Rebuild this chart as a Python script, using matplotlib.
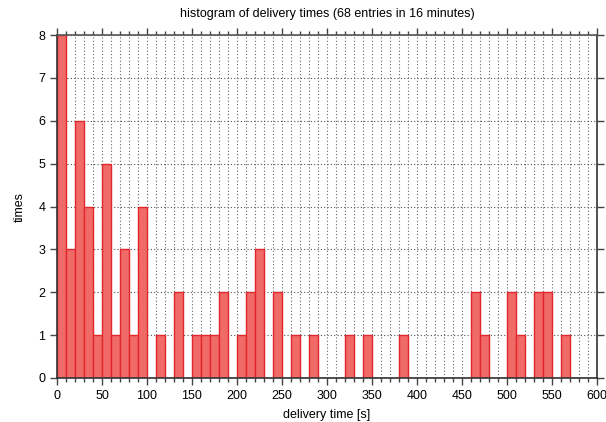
import numpy as np
import matplotlib.pyplot as plt
from matplotlib.ticker import MultipleLocator

plt.rcParams['font.family'] = ['Liberation Sans', 'DejaVu Sans']

# bin starts (s) and counts, bin width 10 s
bin_start = list(range(0, 600, 10))
counts = [8, 3, 6, 4, 1, 5, 1, 3, 1, 4,
          0, 1, 0, 2, 0, 1, 1, 1, 2, 0,
          1, 2, 3, 0, 2, 0, 1, 0, 1, 0,
          0, 0, 1, 0, 1, 0, 0, 0, 1, 0,
          0, 0, 0, 0, 0, 0, 2, 1, 0, 0,
          2, 1, 0, 2, 2, 0, 1, 0, 0, 0]

fig = plt.figure(figsize=(6.06, 4.22), dpi=100)
ax = fig.add_axes([57 / 606, 1 - 378 / 422, 540 / 606, 343 / 422])

ax.bar(bin_start, counts, width=10, align='edge',
       facecolor='#f06b68', edgecolor='#e3262d', linewidth=1.0, zorder=2)

ax.set_xlim(0, 600)
ax.set_ylim(0, 8)
ax.xaxis.set_major_locator(MultipleLocator(50))
ax.xaxis.set_minor_locator(MultipleLocator(10))
ax.yaxis.set_major_locator(MultipleLocator(1))

ax.grid(which='both', axis='x', color='#666666', linestyle=(0, (1, 2)), linewidth=0.8, zorder=0)
ax.grid(which='major', axis='y', color='#555555', linestyle=(0, (1, 2)), linewidth=0.8, zorder=0)
ax.set_axisbelow(True)

ax.tick_params(which='both', direction='out', top=True, right=True,
               labelsize=9, color='#444444', width=1)
ax.tick_params(which='major', length=5)
ax.tick_params(which='minor', length=3)

for s in ax.spines.values():
    s.set_color('#333333')
    s.set_linewidth(1.2)
ax.spines['top'].set_color('#555555')

ax.set_xlabel('delivery time [s]', fontsize=9, labelpad=5)
ax.set_ylabel('times', fontsize=9, labelpad=9)
ax.set_title('histogram of delivery times (68 entries in 16 minutes)', fontsize=9, pad=13)

fig.savefig('out.png', dpi=100)
